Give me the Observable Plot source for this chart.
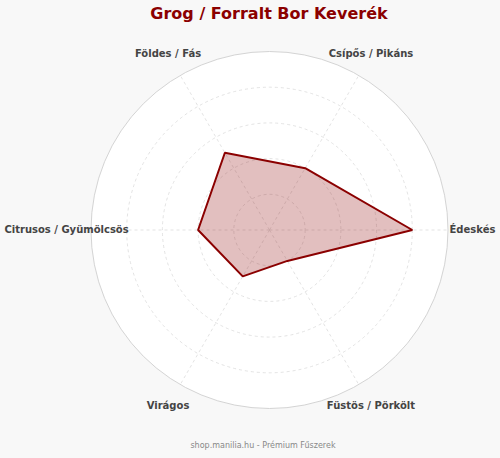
<!DOCTYPE html>
<html><head><meta charset="utf-8">
<script src="https://cdn.jsdelivr.net/npm/d3@7"></script>
<script src="https://cdn.jsdelivr.net/npm/@observablehq/plot@0.6"></script>
<style>
html,body{margin:0;padding:0;background:#f8f8f8;}
#wrap{width:500px;height:458px;font-family:"DejaVu Sans",sans-serif;overflow:hidden;}
#title{height:28px;line-height:28px;text-align:center;padding-left:38px;font-size:16px;font-weight:bold;color:#8b0000;box-sizing:border-box;}
#caption{height:24px;line-height:24px;text-align:center;padding-left:26px;font-size:8px;color:#888;box-sizing:border-box;}
#chart svg{display:block;background:transparent;}
</style></head>
<body>
<div id="wrap">
<div id="title">Grog / Forralt Bor Keverék</div>
<div id="chart"></div>
<div id="caption">shop.manilia.hu - Prémium Fűszerek</div>
</div>
<script>
const categories = ["Édeskés", "Csípős / Pikáns", "Földes / Fás", "Citrusos / Gyümölcsös", "Virágos", "Füstös / Pörkölt"];
const values = [8, 4, 5, 4, 3, 2];
const ringLevels = [2, 4, 6, 8];
const maxValue = 10;

const angle = i => i * 2 * Math.PI / categories.length;
const axes = categories.map((name, i) => ({name, i, value: values[i]}));
const pts = axes.map(d => ({
  x: d.value / maxValue * Math.cos(angle(d.i)),
  y: d.value / maxValue * Math.sin(angle(d.i))
}));
const rings = ringLevels.map(v => ({r: v / maxValue}));
const labelR = 1.137;

const chart = Plot.plot({
  width: 500, height: 406, margin: 0,
  style: {background: "transparent", overflow: "visible"},
  x: {domain: [-1, 1], range: [90.5, 447.5], axis: null},
  y: {domain: [-1, 1], range: [380, 23], axis: null},
  r: {type: "linear", domain: [0, 1], range: [0, 178.5]},
  marks: [
    Plot.dot([{r: 1}], {x: () => 0, y: () => 0, r: "r", fill: "white", stroke: "#d4d4d4", strokeWidth: 1}),
    Plot.dot(rings, {x: () => 0, y: () => 0, r: "r", fill: "none", stroke: "#dcdcdc", strokeWidth: 0.8, strokeDasharray: "3,3"}),
    Plot.link(axes, {x1: () => 0, y1: () => 0, x2: d => Math.cos(angle(d.i)), y2: d => Math.sin(angle(d.i)), stroke: "#dcdcdc", strokeWidth: 0.8, strokeDasharray: "3,3"}),
    Plot.line(pts, {x: "x", y: "y", curve: "linear-closed", fill: "#8b0000", fillOpacity: 0.25, stroke: "#8b0000", strokeWidth: 2, strokeLinejoin: "miter"}),
    Plot.text(axes, {x: d => labelR * Math.cos(angle(d.i)), y: d => labelR * Math.sin(angle(d.i)), text: "name", fontSize: 10, fontWeight: "bold", fill: "#444", fontFamily: "DejaVu Sans"})
  ]
});
document.getElementById("chart").appendChild(chart);
</script>
</body></html>
